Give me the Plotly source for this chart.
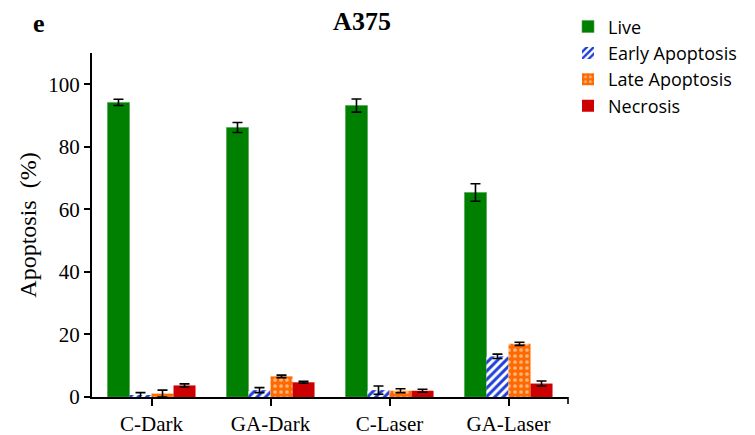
import plotly.graph_objects as go

categories = ["C-Dark", "GA-Dark", "C-Laser", "GA-Laser"]
live = [94.2, 86.2, 93.2, 65.4]
live_err = [1.0, 1.6, 2.1, 2.8]
early = [0.5, 2.2, 2.2, 13.0]
early_err = [0.9, 0.8, 1.3, 0.7]
late = [1.1, 6.6, 2.0, 17.0]
late_err = [1.1, 0.4, 0.65, 0.5]
necrosis = [3.7, 4.7, 2.0, 4.3]
necrosis_err = [0.5, 0.3, 0.5, 0.8]
y_ticks = [0, 20, 40, 60, 80, 100]

err_style = dict(type="data", visible=True, color="black", thickness=1.6, width=5)

fig = go.Figure()
fig.add_bar(name="Live", x=categories, y=live,
            error_y=dict(array=live_err, **err_style),
            marker=dict(color="#008000", line=dict(width=0.6, color="#4aa04a")))
fig.add_bar(name="Early Apoptosis", x=categories, y=early,
            error_y=dict(array=early_err, **err_style),
            marker=dict(color="#1f3fd8", line=dict(width=0),
                        pattern=dict(shape="/", fgcolor="#1f3fd8", bgcolor="white",
                                     size=6, solidity=0.5, fillmode="replace")))
fig.add_bar(name="Late Apoptosis", x=categories, y=late,
            error_y=dict(array=late_err, **err_style),
            marker=dict(color="#ff6a00", line=dict(width=0),
                        pattern=dict(shape=".", fgcolor="white", bgcolor="#ff6a00",
                                     size=6, solidity=0.3, fillmode="overlay")))
fig.add_bar(name="Necrosis", x=categories, y=necrosis,
            error_y=dict(array=necrosis_err, **err_style),
            marker=dict(color="#cc0000", line=dict(width=0)))

fig.update_layout(
    width=755, height=435,
    margin=dict(l=92, r=187, t=53, b=38, autoexpand=False),
    paper_bgcolor="white", plot_bgcolor="white",
    barmode="group", bargap=0.26, bargroupgap=0,
    font=dict(family="Liberation Serif", color="black", size=21),
    title=dict(text="<b>A375</b>", x=362 / 755, xref="container", xanchor="center",
               y=1 - 21 / 435, yref="container", yanchor="middle",
               font=dict(family="Liberation Serif", size=26, color="black")),
    legend=dict(x=1.0, xanchor="left", y=1.13, yanchor="top",
                font=dict(family="Open Sans", size=18, color="black"),
                tracegroupgap=0, itemwidth=30, bgcolor="rgba(0,0,0,0)"),
    showlegend=True,
)
fig.update_xaxes(showline=True, linecolor="black", linewidth=2,
                 ticks="outside", ticklen=7, tickwidth=1.6, tickcolor="black",
                 showgrid=False, tickfont=dict(size=21, family="Liberation Serif"))
fig.update_yaxes(range=[0, 110], tickvals=y_ticks, showline=True, linecolor="black",
                 linewidth=2, ticks="outside", ticklen=6, tickwidth=1.6,
                 tickcolor="black", showgrid=False, zeroline=False,
                 title=dict(text="Apoptosis  (%)", standoff=5,
                            font=dict(size=24, family="Liberation Serif")),
                 tickfont=dict(size=21, family="Liberation Serif"))
fig.add_shape(type="line", xref="paper", yref="paper", x0=1, x1=1, y0=0, y1=-0.02,
              line=dict(color="black", width=1.6))
fig.add_annotation(text="<b>e</b>", xref="paper", yref="paper",
                   x=(39 - 92) / 476, y=(397 - 23) / 344, showarrow=False,
                   xanchor="center", yanchor="middle",
                   font=dict(family="Liberation Serif", size=26, color="black"))

fig.write_html("out.html", config={"displayModeBar": False},
               post_script="document.body.style.margin='0';document.body.style.overflow='hidden';")
